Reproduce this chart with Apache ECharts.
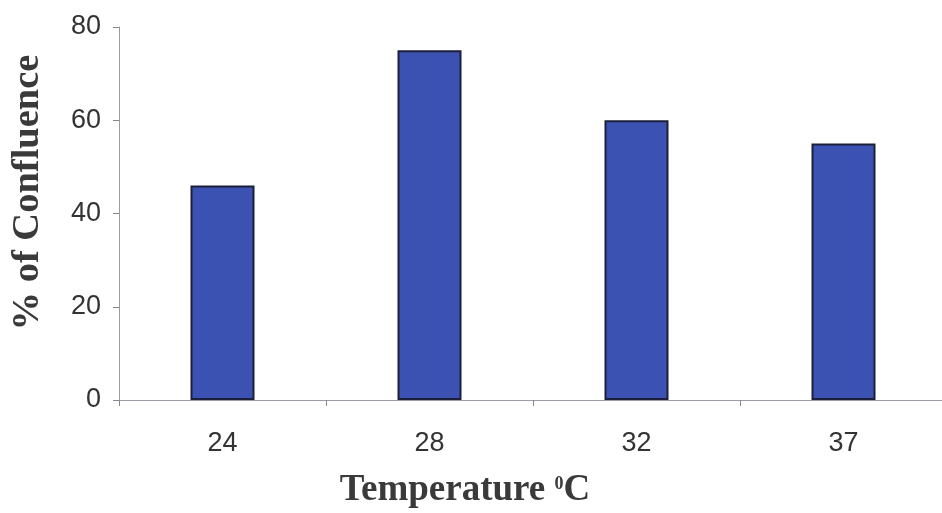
<!DOCTYPE html>
<html><head><meta charset="utf-8">
<script src="https://cdn.jsdelivr.net/npm/echarts@6/dist/echarts.min.js"></script>
<style>html,body{margin:0;padding:0;background:#fff}#c{width:942px;height:513px}</style>
</head><body><div id="c"></div>
<script>
const categories = ['24', '28', '32', '37'];
const confluence = [46, 75, 60, 55];
const yTicks = [0, 20, 40, 60, 80];

const chart = echarts.init(document.getElementById('c'), null, {renderer: 'canvas'});
chart.setOption({
  animation: false,
  backgroundColor: '#ffffff',
  grid: {left: 119, right: -5, top: 27, bottom: 113, outerBoundsMode: 'none', containLabel: false},
  xAxis: {
    type: 'category',
    data: categories,
    name: '{a|Temperature }{s|0}{a|C}',
    nameLocation: 'middle',
    nameGap: 69,
    nameTextStyle: {
      padding: [0, 136, 0, 0],
      rich: {
        a: {fontFamily: 'Liberation Serif', fontWeight: 'bold', fontSize: 37, color: '#3a3a3a', lineHeight: 40, verticalAlign: 'bottom'},
        s: {fontFamily: 'Liberation Serif', fontWeight: 'bold', fontSize: 18, color: '#3a3a3a', lineHeight: 40, verticalAlign: 'top', padding: [6, 0, 0, 0]}
      }
    },
    axisLine: {lineStyle: {color: '#9a9aa8', width: 1}},
    axisTick: {show: true, length: 6, lineStyle: {color: '#888'}},
    axisLabel: {fontFamily: 'Liberation Sans', fontSize: 27, color: '#333', margin: 30}
  },
  yAxis: {
    type: 'value',
    min: yTicks[0], max: yTicks[yTicks.length - 1], interval: 20,
    name: '% of Confluence',
    nameLocation: 'middle',
    nameGap: 71,
    nameTextStyle: {fontFamily: 'Liberation Serif', fontWeight: 'bold', fontSize: 38.5, color: '#3a3a3a', padding: [0, 0, 0, 42]},
    axisLine: {show: true, lineStyle: {color: '#9a9aa8', width: 1}},
    axisTick: {show: true, length: 6, lineStyle: {color: '#888'}},
    splitLine: {show: false},
    axisLabel: {fontFamily: 'Liberation Sans', fontSize: 27, color: '#333', margin: 18}
  },
  series: [{
    type: 'bar',
    data: confluence,
    barWidth: 64,
    itemStyle: {color: '#3c52b2', borderColor: '#1c1f3a', borderWidth: 2}
  }]
});
</script></body></html>
